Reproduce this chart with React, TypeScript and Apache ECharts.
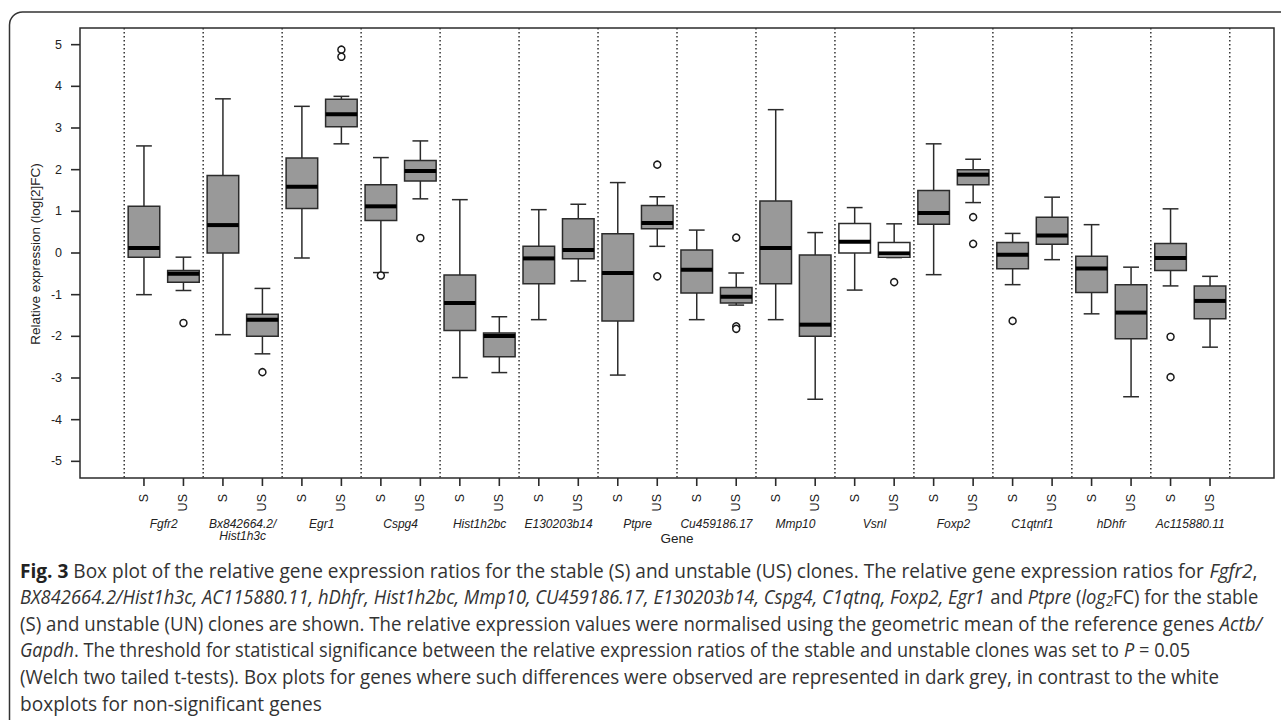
import React, { useEffect, useRef } from 'react';
import * as echarts from 'echarts';

// ---------- data ----------
const genes = [
  'Fgfr2', 'Bx842664.2/\nHist1h3c', 'Egr1', 'Cspg4', 'Hist1h2bc', 'E130203b14', 'Ptpre',
  'Cu459186.17', 'Mmp10', 'Vsnl', 'Foxp2', 'C1qtnf1', 'hDhfr', 'Ac115880.11',
];
const clones = ['S', 'US'];
const significant = [true, true, true, true, true, true, true, true, true, false, true, true, true, true];

// [min, q1, median, q3, max]
const stableStats = [
  [-1.0, -0.1, 0.12, 1.12, 2.57],
  [-1.96, 0.0, 0.67, 1.86, 3.7],
  [-0.12, 1.07, 1.59, 2.28, 3.52],
  [-0.47, 0.78, 1.12, 1.64, 2.29],
  [-2.99, -1.86, -1.2, -0.53, 1.28],
  [-1.6, -0.74, -0.13, 0.16, 1.04],
  [-2.93, -1.63, -0.48, 0.46, 1.69],
  [-1.6, -0.96, -0.4, 0.07, 0.55],
  [-1.6, -0.74, 0.12, 1.25, 3.44],
  [-0.89, 0.0, 0.27, 0.71, 1.09],
  [-0.52, 0.69, 0.96, 1.5, 2.62],
  [-0.76, -0.38, -0.04, 0.25, 0.47],
  [-1.46, -0.95, -0.37, -0.08, 0.68],
  [-0.79, -0.42, -0.12, 0.23, 1.06],
];
const unstableStats = [
  [-0.9, -0.7, -0.5, -0.42, -0.1],
  [-2.42, -2.0, -1.6, -1.47, -0.85],
  [2.62, 3.03, 3.33, 3.69, 3.76],
  [1.3, 1.73, 1.97, 2.22, 2.69],
  [-2.87, -2.49, -1.99, -1.92, -1.53],
  [-0.67, -0.14, 0.07, 0.82, 1.17],
  [0.16, 0.58, 0.72, 1.14, 1.35],
  [-1.25, -1.2, -1.05, -0.83, -0.48],
  [-3.51, -2.0, -1.72, -0.05, 0.49],
  [-0.11, -0.1, -0.01, 0.25, 0.7],
  [1.21, 1.64, 1.88, 2.0, 2.25],
  [-0.16, 0.21, 0.42, 0.86, 1.34],
  [-3.45, -2.06, -1.43, -0.76, -0.34],
  [-2.26, -1.58, -1.15, -0.79, -0.56],
];
const stableOutliers = [[], [], [], [-0.54], [], [], [], [], [], [], [], [-1.63], [], [-2.01, -2.98]];
const unstableOutliers = [
  [-1.68], [-2.86], [4.88, 4.71], [0.36], [], [], [2.12, -0.56], [0.37, -1.76, -1.82], [], [-0.7],
  [0.86, 0.22], [], [], [],
];
const yTicks = [-5, -4, -3, -2, -1, 0, 1, 2, 3, 4, 5];

const captionLines = [
  '{b|Fig. 3} Box plot of the relative gene expression ratios for the stable (S) and unstable (US) clones. The relative gene expression ratios for {i|Fgfr2},',
  '{i|BX842664.2/Hist1h3c, AC115880.11, hDhfr, Hist1h2bc, Mmp10, CU459186.17, E130203b14, Cspg4, C1qtnq, Foxp2, Egr1} and {i|Ptpre} ({i|log}{sub|2}FC) for the stable',
  '(S) and unstable (UN) clones are shown. The relative expression values were normalised using the geometric mean of the reference genes {i|Actb/}',
  '{i|Gapdh}. The threshold for statistical significance between the relative expression ratios of the stable and unstable clones was set to {i|P} = 0.05',
  '(Welch two tailed t-tests). Box plots for genes where such differences were observed are represented in dark grey, in contrast to the white',
  'boxplots for non-significant genes',
];

// ---------- helpers ----------
const FONT = '"Liberation Sans", Arial, Helvetica, sans-serif';
const CAP_FAMILY = '"Open Sans"';
const CAP_FONT = '"Open Sans", "Noto Sans", sans-serif';
const CAP_SIZE = 20;
const SUB_SIZE = 14;
const CAP_LEFT = 20;
const CAP_RIGHT_ENDS = [1258, 1258, 1262, 1190, 1219, 322];
const X_MIN = -0.62;
const X_MAX = 29.62;
const Y_MIN = -5.4;
const Y_MAX = 5.4;
const GRID = { left: 80, right: 7, top: 28, bottom: 242 };
const W = 1281;
const H = 720;

function measureRich(line: string): number {
  const ctx = document.createElement('canvas').getContext('2d');
  if (!ctx) return 0;
  const re = /\{([a-z]+)\|([^}]*)\}|([^{]+)/g;
  let m: RegExpExecArray | null;
  let total = 0;
  while ((m = re.exec(line)) !== null) {
    const style = m[1] || '';
    const text = m[1] ? m[2] : m[3];
    const prefix = style === 'b' ? 'bold ' : style === 'i' || style === 'sub' ? 'italic ' : '';
    const size = style === 'sub' ? SUB_SIZE : CAP_SIZE;
    ctx.font = `${prefix}${size}px ${CAP_FAMILY}`;
    total += ctx.measureText(text).width;
  }
  return total;
}

export default function App() {
  const ref = useRef<HTMLDivElement>(null);
  useEffect(() => {
    if (!ref.current) return;
    const chart = echarts.init(ref.current, null, { renderer: 'svg' });

    const boxData: number[][] = [];
    const outlierData: number[][] = [];
    genes.forEach((_, i) => {
      const fill = significant[i] ? 1 : 0;
      boxData.push([2 * i + 1, ...stableStats[i], fill]);
      boxData.push([2 * i + 2, ...unstableStats[i], fill]);
      stableOutliers[i].forEach((v) => outlierData.push([2 * i + 1, v]));
      unstableOutliers[i].forEach((v) => outlierData.push([2 * i + 2, v]));
    });
    const positions = boxData.map((d) => d[0]);
    const geneCenters = genes.map((_, i) => 2 * i + 1.5);
    const dividers = [0, ...genes.map((_, i) => i + 1)].map((k) => [2 * k + 0.5, 0]);

    const scales = captionLines.map((t, k) => {
      let w = 0;
      try { w = measureRich(t); } catch (e) { w = 0; }
      return w > 0 ? (CAP_RIGHT_ENDS[k] - CAP_LEFT) / w : 0.82;
    });

    const rich = {
      b: { fontWeight: 'bold', fontFamily: CAP_FONT, fontSize: CAP_SIZE, fill: '#222' },
      i: { fontStyle: 'italic', fontFamily: CAP_FONT, fontSize: CAP_SIZE, fill: '#333' },
      sub: { fontStyle: 'italic', fontFamily: CAP_FONT, fontSize: SUB_SIZE, fill: '#333', padding: [8, 0, 0, 0] },
    };

    const stroke = '#2b2b2b';

    const baseGraphic: any[] = [
      {
        id: 'frame', type: 'rect', silent: true, z: -1,
        shape: { x: 9.5, y: 12, width: 1400, height: 800, r: 13 },
        style: { fill: 'none', stroke: '#333', lineWidth: 1.5 },
      },
      {
        id: 'ytitle', type: 'text', x: 35, y: 254, rotation: Math.PI / 2,
        style: {
          text: 'Relative expression (log[2]FC)', fontFamily: FONT, fontSize: 13.5, fill: '#222',
          align: 'center', verticalAlign: 'middle', textAlign: 'center', textVerticalAlign: 'middle',
        },
      },
      {
        id: 'xtitle', type: 'text', x: 677, y: 538,
        style: {
          text: 'Gene', fontFamily: FONT, fontSize: 13.5, fill: '#222',
          align: 'center', verticalAlign: 'middle', textAlign: 'center', textVerticalAlign: 'middle',
        },
      },
      ...captionLines.map((t, k) => ({
        id: 'cap' + k, type: 'group', x: CAP_LEFT, y: 570 + k * 26.6, scaleX: scales[k],
        children: [
          {
            type: 'text', x: 0, y: 0,
            style: {
              text: t, rich, fontFamily: CAP_FONT, fontSize: CAP_SIZE, fill: '#333',
              align: 'left', verticalAlign: 'middle', textAlign: 'left', textVerticalAlign: 'middle',
            },
          },
        ],
      })),
    ];

    const option: any = {
      animation: false,
      backgroundColor: '#ffffff',
      grid: {
        ...GRID,
        show: true, borderColor: stroke, borderWidth: 1.5, backgroundColor: 'transparent',
      },
      xAxis: [
        {
          type: 'value', min: X_MIN, max: X_MAX, position: 'bottom',
          axisLine: { show: false, onZero: false },
          splitLine: { show: false },
          axisTick: { show: false },
          axisLabel: {
            show: true, customValues: positions, rotate: 90, margin: 16,
            fontFamily: FONT, fontSize: 12.5, color: '#222',
            formatter: (v: number) => clones[(Math.round(v) - 1) % 2],
          },
        },
        {
          type: 'value', min: X_MIN, max: X_MAX, position: 'bottom', gridIndex: 0,
          axisLine: { show: false, onZero: false },
          splitLine: { show: false },
          axisTick: { show: false },
          axisLabel: {
            show: true, customValues: geneCenters, margin: 40,
            fontFamily: FONT, fontSize: 12, fontStyle: 'italic', color: '#222', lineHeight: 12,
            formatter: (v: number) => genes[Math.round((v - 1.5) / 2)] || '',
          },
        },
      ],
      yAxis: {
        type: 'value', min: Y_MIN, max: Y_MAX,
        axisLine: { show: false, onZero: false },
        splitLine: { show: false },
        axisTick: { show: false },
        axisLabel: { show: true, customValues: yTicks, margin: 18, fontFamily: FONT, fontSize: 12.5, color: '#222' },
      },
      series: [
        {
          type: 'custom', name: 'dividers', xAxisIndex: 0, yAxisIndex: 0, silent: true,
          data: dividers, encode: { x: 0, y: 1 },
          renderItem: (params: any, api: any) => {
            const x = api.value(0);
            const top = api.coord([x, Y_MAX]);
            const bot = api.coord([x, Y_MIN]);
            return {
              type: 'line',
              shape: { x1: top[0], y1: top[1], x2: bot[0], y2: bot[1] },
              style: { stroke: '#333', lineWidth: 1.5, lineDash: [1.6, 2.4] },
            };
          },
          z: 1,
        },
        {
          type: 'custom', name: 'boxes', xAxisIndex: 0, yAxisIndex: 0, silent: true,
          data: boxData, encode: { x: 0, y: [1, 2, 3, 4, 5] },
          renderItem: (params: any, api: any) => {
            const x = api.value(0);
            const mn = api.coord([x, api.value(1)]);
            const q1 = api.coord([x, api.value(2)]);
            const md = api.coord([x, api.value(3)]);
            const q3 = api.coord([x, api.value(4)]);
            const mx = api.coord([x, api.value(5)]);
            const fill = api.value(6) ? '#999999' : '#ffffff';
            const w = api.size([0.8, 0])[0];
            const hw = w / 2;
            const cw = w / 4;
            const cx = mn[0];
            const ls = { stroke, lineWidth: 1.5 };
            return {
              type: 'group',
              children: [
                { type: 'line', shape: { x1: cx, y1: mx[1], x2: cx, y2: q3[1] }, style: ls },
                { type: 'line', shape: { x1: cx, y1: q1[1], x2: cx, y2: mn[1] }, style: ls },
                { type: 'line', shape: { x1: cx - cw, y1: mx[1], x2: cx + cw, y2: mx[1] }, style: ls },
                { type: 'line', shape: { x1: cx - cw, y1: mn[1], x2: cx + cw, y2: mn[1] }, style: ls },
                { type: 'rect', shape: { x: cx - hw, y: q3[1], width: w, height: q1[1] - q3[1] }, style: { fill, stroke, lineWidth: 1.5 } },
                { type: 'line', shape: { x1: cx - hw, y1: md[1], x2: cx + hw, y2: md[1] }, style: { stroke: '#000', lineWidth: 4 } },
              ],
            };
          },
          z: 2,
        },
        {
          type: 'scatter', name: 'outliers', xAxisIndex: 0, yAxisIndex: 0, silent: true,
          data: outlierData, symbol: 'circle', symbolSize: 7,
          itemStyle: { color: '#ffffff', borderColor: '#1a1a1a', borderWidth: 1.5, opacity: 1 },
          z: 3,
        },
      ],
      graphic: baseGraphic,
    };

    chart.setOption(option);

    // axis tick marks in the graphic layer, placed through the chart's scales
    const plotW = W - GRID.left - GRID.right;
    const plotH = H - GRID.top - GRID.bottom;
    const toPx = (x: number, y: number): number[] => {
      let pt: any = null;
      try { pt = chart.convertToPixel({ xAxisIndex: 0, yAxisIndex: 0 }, [x, y]); } catch (e) { pt = null; }
      if (pt && isFinite(pt[0]) && isFinite(pt[1])) return pt;
      return [
        GRID.left + ((x - X_MIN) / (X_MAX - X_MIN)) * plotW,
        GRID.top + ((Y_MAX - y) / (Y_MAX - Y_MIN)) * plotH,
      ];
    };
    const tickEls: any[] = [];
    positions.forEach((p, k) => {
      const pt = toPx(p, Y_MIN);
      tickEls.push({
        id: 'xt' + k, type: 'line', silent: true, z: 50,
        shape: { x1: pt[0], y1: pt[1], x2: pt[0], y2: pt[1] + 8 },
        style: { stroke, lineWidth: 1.6 },
      });
    });
    yTicks.forEach((v, k) => {
      const pt = toPx(X_MIN, v);
      tickEls.push({
        id: 'yt' + k, type: 'line', silent: true, z: 50,
        shape: { x1: pt[0] - 9, y1: pt[1], x2: pt[0], y2: pt[1] },
        style: { stroke, lineWidth: 1.6 },
      });
    });
    chart.setOption({ graphic: [...baseGraphic, ...tickEls] });

    return () => chart.dispose();
  }, []);

  return (
    <div
      ref={ref}
      style={{ position: 'fixed', left: 0, top: 0, width: '1281px', height: '720px', background: '#fff' }}
    />
  );
}
